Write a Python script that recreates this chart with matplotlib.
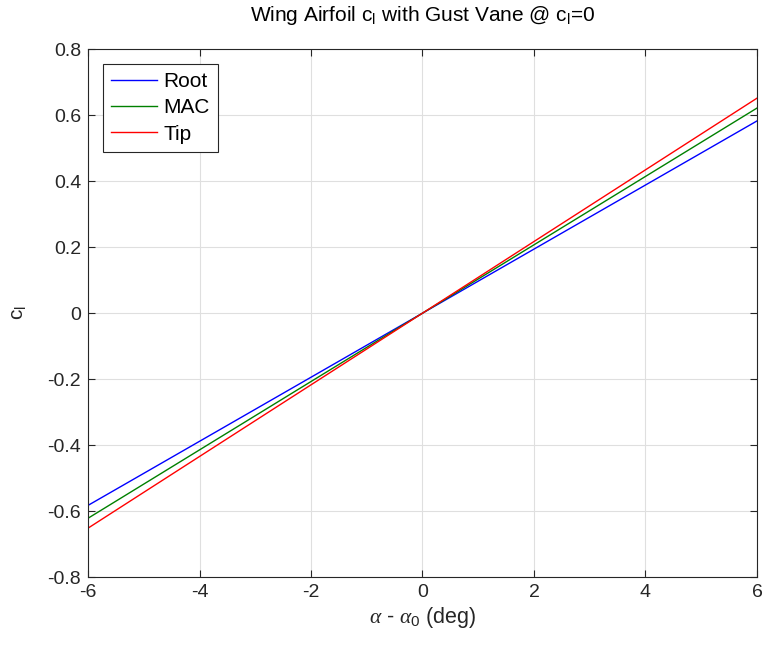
import numpy as np
import matplotlib
matplotlib.use('Agg')
import matplotlib.pyplot as plt

plt.rcParams['font.family'] = ['Liberation Sans', 'DejaVu Sans']
plt.rcParams['mathtext.fontset'] = 'custom'
plt.rcParams['mathtext.rm'] = 'Liberation Sans'
plt.rcParams['mathtext.it'] = 'Liberation Serif:italic'

# angle of attack relative to zero-lift angle (deg)
alpha = [-6, 6]
# section lift coefficient at the ends of the range
cl_root = [-0.583, 0.582]
cl_mac = [-0.622, 0.621]
cl_tip = [-0.652, 0.651]

series_names = ['Root', 'MAC', 'Tip']
x_ticks = [-6, -4, -2, 0, 2, 4, 6]
y_ticks = [-0.8, -0.6, -0.4, -0.2, 0, 0.2, 0.4, 0.6, 0.8]
y_tick_labels = ['-0.8', '-0.6', '-0.4', '-0.2', '0', '0.2', '0.4', '0.6', '0.8']

fig = plt.figure(figsize=(7.64, 6.5), dpi=100)
ax = fig.add_axes([0.1152, 0.1123, 0.8756, 0.8123])

ax.plot(alpha, cl_root, color='#0000ff', linewidth=1.0, label=series_names[0])
ax.plot(alpha, cl_mac, color='#008000', linewidth=1.0, label=series_names[1])
ax.plot(alpha, cl_tip, color='#ff0000', linewidth=1.0, label=series_names[2])

ax.set_xlim(-6, 6)
ax.set_ylim(-0.8, 0.8)
ax.set_xticks(x_ticks)
ax.set_xticklabels([str(t) for t in x_ticks])
ax.set_yticks(y_ticks)
ax.set_yticklabels(y_tick_labels)

ax.grid(True, color='#dfdfdf', linewidth=0.8)
ax.set_axisbelow(True)
ax.tick_params(direction='in', length=5, width=0.8, labelsize=14, top=True, right=True,
               colors='#262626', pad=5)
for s in ax.spines.values():
    s.set_color('#262626')
    s.set_linewidth(0.8)

ax.set_xlabel(r'$\alpha$ - $\alpha_\mathregular{0}$ (deg)', fontsize=15.5, color='#262626', labelpad=3)
ax.set_ylabel(r'c$_\mathregular{l}$', fontsize=15, color='#262626', labelpad=14)
ax.set_title(r'Wing Airfoil c$_\mathregular{l}$ with Gust Vane @ c$_\mathregular{l}$=0',
             fontsize=15, color='#000000', pad=20)

leg = ax.legend(loc='upper left', fontsize=15, fancybox=False, framealpha=1,
                edgecolor='#262626', handlelength=2.2, handletextpad=0.3,
                borderpad=0.4, labelspacing=0.35, borderaxespad=0.7)
leg.get_frame().set_linewidth(0.8)

fig.savefig('out.png', dpi=100)
